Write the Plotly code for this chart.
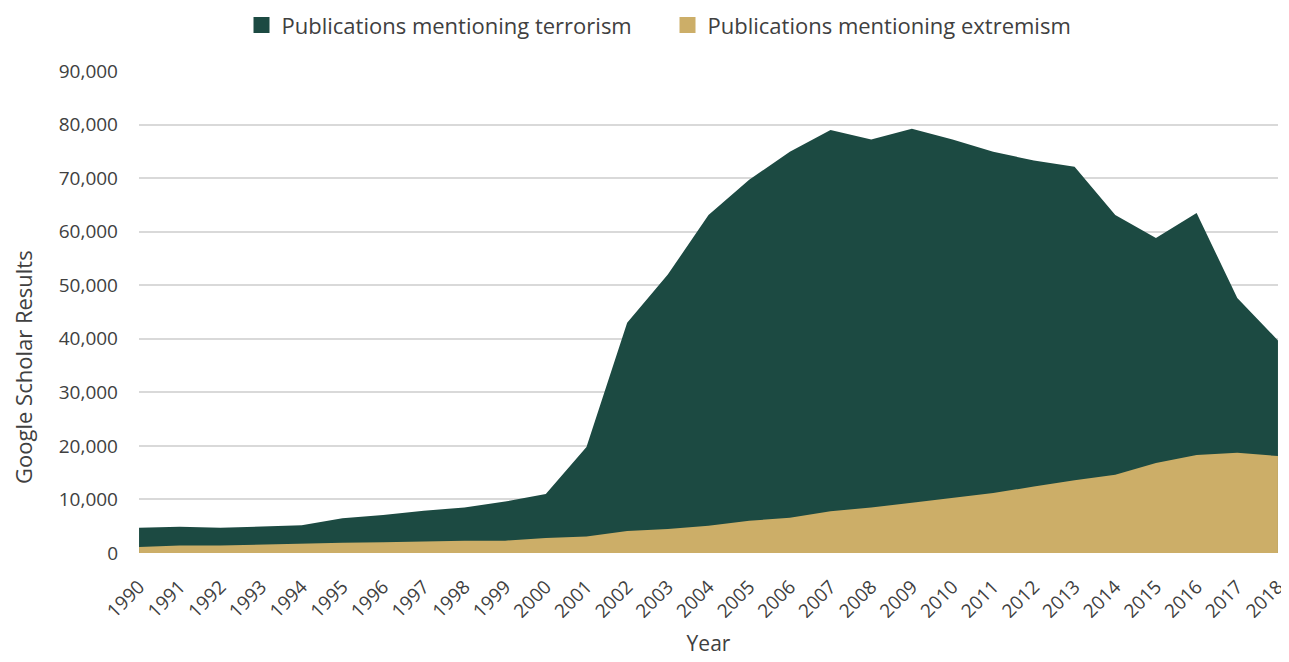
import plotly.graph_objects as go

years = list(range(1990, 2019))
terrorism = [4700, 4900, 4700, 4900, 5200, 6500, 7100, 7900, 8500, 9600,
             11000, 19800, 43000, 52000, 63100, 69700, 74900, 79000, 77200, 79200,
             77200, 74900, 73300, 72100, 63100, 58800, 63500, 47600, 39700]
extremism = [1100, 1400, 1400, 1600, 1700, 1900, 2000, 2200, 2300, 2300,
             2800, 3100, 4100, 4500, 5100, 6000, 6600, 7800, 8500, 9400,
             10300, 11200, 12400, 13600, 14600, 16800, 18300, 18700, 18100]
y_ticks = list(range(0, 90001, 10000))
names = ["Publications mentioning terrorism", "Publications mentioning extremism"]
colors = ["#1c4a42", "#ccae68"]

FONT = "Open Sans, sans-serif"
TXT = "#404040"

fig = go.Figure()
for vals, name, col in zip([terrorism, extremism], names, colors):
    fig.add_trace(go.Scatter(
        x=years, y=vals, name=name, showlegend=False, hoverinfo="x+y",
        mode="lines", line=dict(width=0, color=col),
        fill="tozeroy", fillcolor=col))
# legend entries with square swatches
for name, col in zip(names, colors):
    fig.add_trace(go.Scatter(
        x=[None], y=[None], name=name, mode="markers",
        marker=dict(symbol="square", size=18, color=col)))

fig.add_annotation(
    text="Google Scholar Results", textangle=-90, showarrow=False,
    xref="paper", x=0, xanchor="center", xshift=-116,
    yref="paper", y=0.386, yanchor="middle",
    font=dict(size=22, color=TXT))

fig.update_layout(
    width=1289, height=662,
    margin=dict(l=131, r=8, t=63, b=117),
    plot_bgcolor="white", paper_bgcolor="white",
    font=dict(family=FONT, color=TXT, size=18),
    showlegend=True,
    legend=dict(orientation="h", x=0.09, xanchor="left", y=0.974, yref="container",
                yanchor="middle", font=dict(size=22, color=TXT),
                itemwidth=30, entrywidth=381, entrywidthmode="pixels",
                traceorder="normal"),
    xaxis=dict(range=[1989.999, 2018.001], tickmode="array", tickvals=years,
               ticktext=[str(y) for y in years], tickangle=-45,
               showgrid=False, zeroline=False, showline=False, automargin=True,
               ticks="", ticklabeloverflow="allow", ticklabelstandoff=18,
               tickfont=dict(size=19, color=TXT),
               title=dict(text="Year", font=dict(size=21, color=TXT), standoff=14)),
    yaxis=dict(range=[0, 90000], tickmode="array", tickvals=y_ticks,
               ticktext=[f"{v:,}" for v in y_ticks],
               showgrid=True, gridcolor="#d9d9d9", gridwidth=1.5,
               zeroline=False, showline=False, ticks="", ticklabelstandoff=20,
               automargin=False,
               tickfont=dict(size=19, color=TXT)),
)

fig.write_html("out.html")
